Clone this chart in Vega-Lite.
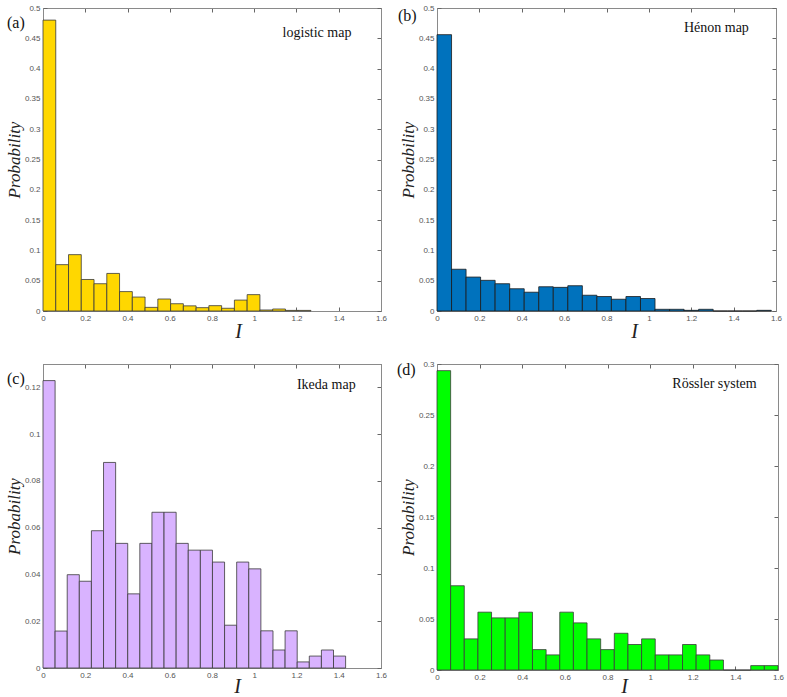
{
  "$schema": "https://vega.github.io/schema/vega-lite/v6.json",
  "background": "white",
  "padding": {"left": 4, "top": 3, "right": 4, "bottom": 4},
  "autosize": {"type": "pad"},
  "datasets": {
    "a": [
      {"x0": 0, "x1": 0.0604, "p": 0.480},
      {"x0": 0.0604, "x1": 0.1208, "p": 0.0765},
      {"x0": 0.1208, "x1": 0.1812, "p": 0.093},
      {"x0": 0.1812, "x1": 0.2416, "p": 0.052},
      {"x0": 0.2416, "x1": 0.302, "p": 0.045},
      {"x0": 0.302, "x1": 0.3624, "p": 0.062},
      {"x0": 0.3624, "x1": 0.4228, "p": 0.032},
      {"x0": 0.4228, "x1": 0.4832, "p": 0.023},
      {"x0": 0.4832, "x1": 0.5436, "p": 0.006},
      {"x0": 0.5436, "x1": 0.604, "p": 0.0198},
      {"x0": 0.604, "x1": 0.6644, "p": 0.012},
      {"x0": 0.6644, "x1": 0.7248, "p": 0.0085},
      {"x0": 0.7248, "x1": 0.7852, "p": 0.0055},
      {"x0": 0.7852, "x1": 0.8456, "p": 0.0088},
      {"x0": 0.8456, "x1": 0.906, "p": 0.0045},
      {"x0": 0.906, "x1": 0.9664, "p": 0.018},
      {"x0": 0.9664, "x1": 1.0268, "p": 0.027},
      {"x0": 1.0268, "x1": 1.0872, "p": 0.0017},
      {"x0": 1.0872, "x1": 1.1476, "p": 0.0033},
      {"x0": 1.1476, "x1": 1.208, "p": 0.001},
      {"x0": 1.208, "x1": 1.2684, "p": 0.001}
    ],
    "b": [
      {"x0": 0, "x1": 0.0686, "p": 0.456},
      {"x0": 0.0686, "x1": 0.1372, "p": 0.0689},
      {"x0": 0.1372, "x1": 0.2058, "p": 0.056},
      {"x0": 0.2058, "x1": 0.2744, "p": 0.0506},
      {"x0": 0.2744, "x1": 0.343, "p": 0.045},
      {"x0": 0.343, "x1": 0.4116, "p": 0.0367},
      {"x0": 0.4116, "x1": 0.4802, "p": 0.031},
      {"x0": 0.4802, "x1": 0.5488, "p": 0.04},
      {"x0": 0.5488, "x1": 0.6174, "p": 0.039},
      {"x0": 0.6174, "x1": 0.686, "p": 0.0417},
      {"x0": 0.686, "x1": 0.7546, "p": 0.026},
      {"x0": 0.7546, "x1": 0.8232, "p": 0.0239},
      {"x0": 0.8232, "x1": 0.8918, "p": 0.0194},
      {"x0": 0.8918, "x1": 0.9604, "p": 0.0239},
      {"x0": 0.9604, "x1": 1.029, "p": 0.0206},
      {"x0": 1.029, "x1": 1.0976, "p": 0.0028},
      {"x0": 1.0976, "x1": 1.1662, "p": 0.0028},
      {"x0": 1.1662, "x1": 1.2348, "p": 0.0011},
      {"x0": 1.2348, "x1": 1.3034, "p": 0.0028},
      {"x0": 1.3034, "x1": 1.372, "p": 0},
      {"x0": 1.372, "x1": 1.4406, "p": 0},
      {"x0": 1.4406, "x1": 1.5092, "p": 0},
      {"x0": 1.5092, "x1": 1.5778, "p": 0.0011}
    ],
    "c": [
      {"x0": 0, "x1": 0.0573, "p": 0.1229},
      {"x0": 0.0573, "x1": 0.1146, "p": 0.0158},
      {"x0": 0.1146, "x1": 0.1719, "p": 0.0399},
      {"x0": 0.1719, "x1": 0.2292, "p": 0.0371},
      {"x0": 0.2292, "x1": 0.2865, "p": 0.0587},
      {"x0": 0.2865, "x1": 0.3438, "p": 0.0879},
      {"x0": 0.3438, "x1": 0.4011, "p": 0.0533},
      {"x0": 0.4011, "x1": 0.4584, "p": 0.0317},
      {"x0": 0.4584, "x1": 0.5157, "p": 0.0533},
      {"x0": 0.5157, "x1": 0.573, "p": 0.0666},
      {"x0": 0.573, "x1": 0.6303, "p": 0.0666},
      {"x0": 0.6303, "x1": 0.6876, "p": 0.0533},
      {"x0": 0.6876, "x1": 0.7449, "p": 0.0504},
      {"x0": 0.7449, "x1": 0.8022, "p": 0.0504},
      {"x0": 0.8022, "x1": 0.8595, "p": 0.0453},
      {"x0": 0.8595, "x1": 0.9168, "p": 0.0183},
      {"x0": 0.9168, "x1": 0.9741, "p": 0.0453},
      {"x0": 0.9741, "x1": 1.0314, "p": 0.0424},
      {"x0": 1.0314, "x1": 1.0887, "p": 0.0159},
      {"x0": 1.0887, "x1": 1.146, "p": 0.0077},
      {"x0": 1.146, "x1": 1.2033, "p": 0.0159},
      {"x0": 1.2033, "x1": 1.2606, "p": 0.0026},
      {"x0": 1.2606, "x1": 1.3179, "p": 0.0051},
      {"x0": 1.3179, "x1": 1.3752, "p": 0.0077},
      {"x0": 1.3752, "x1": 1.4325, "p": 0.0051}
    ],
    "d": [
      {"x0": 0, "x1": 0.064, "p": 0.2935},
      {"x0": 0.064, "x1": 0.128, "p": 0.0826},
      {"x0": 0.128, "x1": 0.192, "p": 0.0305},
      {"x0": 0.192, "x1": 0.256, "p": 0.0567},
      {"x0": 0.256, "x1": 0.32, "p": 0.0511},
      {"x0": 0.32, "x1": 0.384, "p": 0.0511},
      {"x0": 0.384, "x1": 0.448, "p": 0.0567},
      {"x0": 0.448, "x1": 0.512, "p": 0.02},
      {"x0": 0.512, "x1": 0.576, "p": 0.0148},
      {"x0": 0.576, "x1": 0.64, "p": 0.0567},
      {"x0": 0.64, "x1": 0.704, "p": 0.0462},
      {"x0": 0.704, "x1": 0.768, "p": 0.0305},
      {"x0": 0.768, "x1": 0.832, "p": 0.02},
      {"x0": 0.832, "x1": 0.896, "p": 0.036},
      {"x0": 0.896, "x1": 0.96, "p": 0.025},
      {"x0": 0.96, "x1": 1.024, "p": 0.0305},
      {"x0": 1.024, "x1": 1.088, "p": 0.0148},
      {"x0": 1.088, "x1": 1.152, "p": 0.0148},
      {"x0": 1.152, "x1": 1.216, "p": 0.025},
      {"x0": 1.216, "x1": 1.28, "p": 0.0148},
      {"x0": 1.28, "x1": 1.344, "p": 0.0098},
      {"x0": 1.344, "x1": 1.408, "p": 0},
      {"x0": 1.408, "x1": 1.472, "p": 0},
      {"x0": 1.472, "x1": 1.536, "p": 0.0043},
      {"x0": 1.536, "x1": 1.6, "p": 0.0043}
    ]
  },
  "config": {
    "view": {"stroke": "#8a8a8a", "strokeWidth": 1},
    "axis": {
      "labelFont": "Liberation Sans", "labelFontSize": 8, "labelColor": "#555555",
      "domainColor": "#8a8a8a", "tickColor": "#666666", "tickSize": -4, "grid": false,
      "titleFont": "Liberation Serif", "titleFontStyle": "italic", "titleFontWeight": "normal",
      "titleColor": "#222222", "labelFlush": false, "labelPadding": 7, "labelOverlap": false
    },
    "title": {"font": "Liberation Serif", "fontSize": 16, "fontWeight": "normal", "anchor": "start", "frame": "group", "color": "#111111", "baseline": "middle", "offset": 0},
    "text": {"font": "Liberation Serif", "fontSize": 14, "align": "right", "baseline": "middle", "color": "#111111"}
  },
  "columns": 2,
  "spacing": {"row": 53, "column": 56},
  "bounds": "flush",
  "concat": [
    {
      "width": 338, "height": 303,
      "title": {"text": "(a)", "dx": -36, "dy": 31},
      "layer": [
        {
          "data": {"name": "a"},
          "mark": {"type": "bar", "fill": "#FFD700", "stroke": "#3a3a3a", "strokeWidth": 0.8},
          "encoding": {
            "x": {"field": "x0", "type": "quantitative", "scale": {"domain": [0, 1.6], "nice": false},
              "axis": {"orient": "bottom", "values": [0, 0.2, 0.4, 0.6, 0.8, 1, 1.2, 1.4, 1.6], "format": "~g", "title": "I", "titleFontSize": 20, "titleX": 195, "titleY": 10}},
            "x2": {"field": "x1"},
            "y": {"field": "p", "type": "quantitative", "scale": {"domain": [0, 0.5], "nice": false},
              "axis": {"orient": "left", "values": [0, 0.05, 0.1, 0.15, 0.2, 0.25, 0.3, 0.35, 0.4, 0.45, 0.5], "format": "~g", "title": "Probability", "titleFontSize": 17, "titleX": -29, "titleBaseline": "middle"}},
            "y2": {"datum": 0}
          }
        },
        {
          "data": {"values": [{"label": "logistic map"}]},
          "mark": {"type": "text"},
          "encoding": {
            "x": {"datum": 1.46, "type": "quantitative", "axis": {"orient": "top", "labels": false, "title": null, "values": [0, 0.2, 0.4, 0.6, 0.8, 1, 1.2, 1.4, 1.6]}},
            "y": {"datum": 0.459, "type": "quantitative", "axis": {"orient": "right", "labels": false, "title": null, "values": [0, 0.05, 0.1, 0.15, 0.2, 0.25, 0.3, 0.35, 0.4, 0.45, 0.5]}},
            "text": {"field": "label"}
          }
        }
      ]
    },
    {
      "width": 339, "height": 303,
      "title": {"text": "(b)", "dx": -39, "dy": 24},
      "layer": [
        {
          "data": {"name": "b"},
          "mark": {"type": "bar", "fill": "#0072BD", "stroke": "#1a1a1a", "strokeWidth": 0.8},
          "encoding": {
            "x": {"field": "x0", "type": "quantitative", "scale": {"domain": [0, 1.6], "nice": false},
              "axis": {"orient": "bottom", "values": [0, 0.2, 0.4, 0.6, 0.8, 1, 1.2, 1.4, 1.6], "format": "~g", "title": "I", "titleFontSize": 20, "titleX": 197, "titleY": 10}},
            "x2": {"field": "x1"},
            "y": {"field": "p", "type": "quantitative", "scale": {"domain": [0, 0.5], "nice": false},
              "axis": {"orient": "left", "values": [0, 0.05, 0.1, 0.15, 0.2, 0.25, 0.3, 0.35, 0.4, 0.45, 0.5], "format": "~g", "title": "Probability", "titleFontSize": 17, "titleX": -29, "titleBaseline": "middle"}},
            "y2": {"datum": 0}
          }
        },
        {
          "data": {"values": [{"label": "Hénon map"}]},
          "mark": {"type": "text"},
          "encoding": {
            "x": {"datum": 1.472, "type": "quantitative", "axis": {"orient": "top", "labels": false, "title": null, "values": [0, 0.2, 0.4, 0.6, 0.8, 1, 1.2, 1.4, 1.6]}},
            "y": {"datum": 0.467, "type": "quantitative", "axis": {"orient": "right", "labels": false, "title": null, "values": [0, 0.05, 0.1, 0.15, 0.2, 0.25, 0.3, 0.35, 0.4, 0.45, 0.5]}},
            "text": {"field": "label"}
          }
        }
      ]
    },
    {
      "width": 338, "height": 304,
      "title": {"text": "(c)", "dx": -36, "dy": 27},
      "layer": [
        {
          "data": {"name": "c"},
          "mark": {"type": "bar", "fill": "#D9B3FF", "stroke": "#3a3a3a", "strokeWidth": 0.8},
          "encoding": {
            "x": {"field": "x0", "type": "quantitative", "scale": {"domain": [0, 1.6], "nice": false},
              "axis": {"orient": "bottom", "values": [0, 0.2, 0.4, 0.6, 0.8, 1, 1.2, 1.4, 1.6], "format": "~g", "title": "I", "titleFontSize": 20, "titleX": 194, "titleY": 8}},
            "x2": {"field": "x1"},
            "y": {"field": "p", "type": "quantitative", "scale": {"domain": [0, 0.13], "nice": false},
              "axis": {"orient": "left", "values": [0, 0.02, 0.04, 0.06, 0.08, 0.1, 0.12], "format": "~g", "title": "Probability", "titleFontSize": 17, "titleX": -29, "titleBaseline": "middle"}},
            "y2": {"datum": 0}
          }
        },
        {
          "data": {"values": [{"label": "Ikeda map"}]},
          "mark": {"type": "text"},
          "encoding": {
            "x": {"datum": 1.48, "type": "quantitative", "axis": {"orient": "top", "labels": false, "title": null, "values": [0, 0.2, 0.4, 0.6, 0.8, 1, 1.2, 1.4, 1.6]}},
            "y": {"datum": 0.121, "type": "quantitative", "axis": {"orient": "right", "labels": false, "title": null, "values": [0, 0.02, 0.04, 0.06, 0.08, 0.1, 0.12]}},
            "text": {"field": "label"}
          }
        }
      ]
    },
    {
      "width": 341, "height": 306,
      "title": {"text": "(d)", "dx": -40, "dy": 22},
      "layer": [
        {
          "data": {"name": "d"},
          "mark": {"type": "bar", "fill": "#00FF00", "stroke": "#3a3a3a", "strokeWidth": 0.8},
          "encoding": {
            "x": {"field": "x0", "type": "quantitative", "scale": {"domain": [0, 1.6], "nice": false},
              "axis": {"orient": "bottom", "values": [0, 0.2, 0.4, 0.6, 0.8, 1, 1.2, 1.4, 1.6], "format": "~g", "title": "I", "titleFontSize": 20, "titleX": 187, "titleY": 6}},
            "x2": {"field": "x1"},
            "y": {"field": "p", "type": "quantitative", "scale": {"domain": [0, 0.3], "nice": false},
              "axis": {"orient": "left", "values": [0, 0.05, 0.1, 0.15, 0.2, 0.25, 0.3], "format": "~g", "title": "Probability", "titleFontSize": 17, "titleX": -29, "titleBaseline": "middle"}},
            "y2": {"datum": 0}
          }
        },
        {
          "data": {"values": [{"label": "Rössler system"}]},
          "mark": {"type": "text"},
          "encoding": {
            "x": {"datum": 1.5, "type": "quantitative", "axis": {"orient": "top", "labels": false, "title": null, "values": [0, 0.2, 0.4, 0.6, 0.8, 1, 1.2, 1.4, 1.6]}},
            "y": {"datum": 0.28, "type": "quantitative", "axis": {"orient": "right", "labels": false, "title": null, "values": [0, 0.05, 0.1, 0.15, 0.2, 0.25, 0.3]}},
            "text": {"field": "label"}
          }
        }
      ]
    }
  ]
}
